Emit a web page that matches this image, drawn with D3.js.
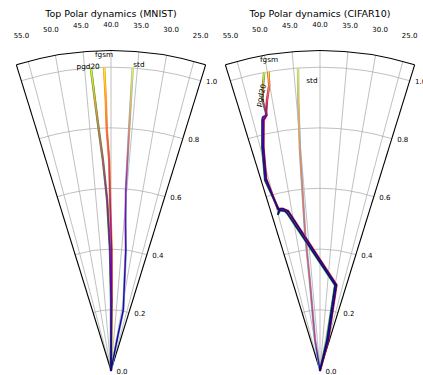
<!DOCTYPE html>
<html>
<head>
<meta charset="utf-8">
<script src="https://cdn.jsdelivr.net/npm/d3@7"></script>
<style>
  body { margin: 0; background: #fff; }
  svg { display: block; font-family: "DejaVu Sans", sans-serif; }
</style>
</head>
<body>
<script>
// ── Data ────────────────────────────────────────────────────────────────────
const thetaTicks = [25, 30, 35, 40, 45, 50, 55];
const rTicks = [0.0, 0.2, 0.4, 0.6, 0.8, 1.0];
const titles = ["Top Polar dynamics (MNIST)", "Top Polar dynamics (CIFAR10)"];

// each point: [epoch, theta (deg), r]
const mnistStd = [[0, 40, 0], [2, 28.9, 0.102], [5, 28.5, 0.203], [15, 33.0, 0.4], [25, 34.5, 0.498],
  [35, 35.3, 0.597], [70, 35.7, 0.795], [100, 35.9, 1.0]];
const mnistFgsm = [[0, 40, 0], [15, 39.4, 0.232], [28, 39.7, 0.397], [38, 40.3, 0.562], [52, 40.5, 0.694],
  [64, 41.0, 0.793], [80, 41.1, 0.891], [100, 41.3, 1.0]];
const mnistPgd20 = [[0, 40, 0], [15, 40.0, 0.232], [25, 40.5, 0.397], [35, 41.3, 0.562], [50, 42.2, 0.694],
  [62, 42.9, 0.793], [78, 43.4, 0.893], [100, 43.8, 1.0]];

const cifarStd = [[0, 40, 0], [45, 49.3, 0.102], [55, 46.5, 0.29], [60, 46.2, 0.456], [72, 45.2, 0.729],
  [85, 44.6, 0.894], [100, 44.15, 1.0]];
const cifarFgsm = [[0, 40, 0], [0.5, 24.8, 0.10], [1, 29.1, 0.287], [1.5, 51.3, 0.536], [2, 52.9, 0.547],
  [2.5, 54.6, 0.55], [3, 55.7, 0.656], [5, 54.2, 0.76], [14, 52.7, 0.846], [22, 52.0, 0.857],
  [50, 51.1, 0.908], [75, 50.1, 0.955], [100, 49.8, 0.999]];
const cifarPgd20 = [[0, 40, 0], [0.5, 27.1, 0.103], [1, 30.0, 0.286], [1.5, 51.8, 0.53], [2, 52.4, 0.538],
  [2.5, 54.3, 0.546], [3, 55.0, 0.534], [3.5, 54.25, 0.542], [4, 56.1, 0.653], [6, 54.5, 0.761],
  [14, 53.0, 0.847], [20, 52.7, 0.856], [28, 51.8, 0.86], [55, 52.0, 0.911], [75, 51.3, 0.959],
  [100, 50.6, 1.0]];

// annotations: [text, theta, r, rotation]
const mnistNotes = [["fgsm", 41.27, 1.043, 0], ["pgd20", 44.3, 1.004, 0], ["std", 34.8, 1.014, 0]];
const cifarNotes = [["fgsm", 49.3, 1.04, 0], ["std", 41.6, 0.957, 0], ["pgd20", 52.1, 0.928, -76]];

const panels = [
  { cx: 111, title: titles[0], notes: mnistNotes,
    runs: [{ pts: mnistStd, base: "#7eb6e0" }, { pts: mnistFgsm, base: "#ff7f0e" }, { pts: mnistPgd20, base: "#2ca02c" }] },
  { cx: 320, title: titles[1], notes: cifarNotes,
    runs: [{ pts: cifarStd, base: "#7eb6e0" }, { pts: cifarPgd20, base: "#2ca02c" }, { pts: cifarFgsm, base: "#d62728" }] },
];

// ── Layout ──────────────────────────────────────────────────────────────────
const W = 423, H = 375;
const CY = 370.5;
const THETA_MIN = 22.8, THETA_MAX = 57.2, R_MAX = 1.055;
const OUTER = 320;

const rScale = d3.scaleLinear().domain([0, R_MAX]).range([0, OUTER]);
// clockwise-from-north angle; 40° points straight up, larger theta to the left
const aScale = d3.scaleLinear().domain([40, 55]).range([0, -15 * Math.PI / 180]);
const color = d3.scaleSequential(d3.interpolatePlasma).domain([0, 100]);

const svg = d3.select("body").append("svg").attr("width", W).attr("height", H);
const defs = svg.append("defs");
let gradId = 0;

function polar(cx, th, r) {
  const a = aScale(th), p = rScale(r);
  return [cx + p * Math.sin(a), CY - p * Math.cos(a)];
}

function arcPath(cx, rad, t0, t1) {
  const p = d3.path();
  p.arc(cx, CY, rad, aScale(t0) - Math.PI / 2, aScale(t1) - Math.PI / 2);
  return p.toString();
}

panels.forEach((pan) => {
  const { cx } = pan;
  const g = svg.append("g");

  // ── grid ──
  const grid = g.append("g").attr("fill", "none").attr("stroke", "#b0b0b0").attr("stroke-width", 0.8);
  grid.selectAll("line").data(thetaTicks).join("line")
    .attr("x1", cx).attr("y1", CY)
    .attr("x2", (t) => polar(cx, t, R_MAX)[0])
    .attr("y2", (t) => polar(cx, t, R_MAX)[1]);
  grid.selectAll("path").data(rTicks.filter((r) => r > 0)).join("path")
    .attr("d", (r) => arcPath(cx, rScale(r), THETA_MAX, THETA_MIN));

  // ── spines ──
  const spine = g.append("g").attr("fill", "none").attr("stroke", "#000").attr("stroke-width", 1.1);
  spine.append("path").attr("d", arcPath(cx, OUTER, THETA_MAX, THETA_MIN));
  [THETA_MIN, THETA_MAX].forEach((t) => {
    const [x, y] = polar(cx, t, R_MAX);
    spine.append("line").attr("x1", cx).attr("y1", CY).attr("x2", x).attr("y2", y);
  });

  // ── trajectories: solid run colour underneath, epoch gradient on top ──
  const line = d3.line().x((d) => polar(cx, d[1], d[2])[0]).y((d) => polar(cx, d[1], d[2])[1]);
  pan.runs.forEach((run) => {
    g.append("path").datum(run.pts)
      .attr("d", line)
      .attr("fill", "none")
      .attr("stroke", run.base)
      .attr("stroke-width", 2.4)
      .attr("stroke-linejoin", "round");
  });
  pan.runs.forEach((run) => {
    const segs = d3.pairs(run.pts);
    g.append("g").selectAll("line").data(segs).join("line")
      .each(function ([a, b]) {
        const [x1, y1] = polar(cx, a[1], a[2]);
        const [x2, y2] = polar(cx, b[1], b[2]);
        const id = "grad" + gradId++;
        const lg = defs.append("linearGradient").attr("id", id)
          .attr("gradientUnits", "userSpaceOnUse")
          .attr("x1", x1).attr("y1", y1).attr("x2", x2).attr("y2", y2);
        lg.append("stop").attr("offset", 0).attr("stop-color", color(a[0]));
        lg.append("stop").attr("offset", 1).attr("stop-color", color(b[0]));
        d3.select(this)
          .attr("x1", x1).attr("y1", y1).attr("x2", x2).attr("y2", y2)
          .attr("stroke", `url(#${id})`)
          .attr("stroke-width", 1.4)
          .attr("stroke-linecap", "round");
      });
  });

  // ── annotations ──
  g.append("g").selectAll("text").data(pan.notes).join("text")
    .attr("transform", (d) => {
      const [x, y] = polar(cx, d[1], d[2]);
      return `translate(${x},${y}) rotate(${d[3]})`;
    })
    .attr("text-anchor", "middle")
    .attr("dominant-baseline", "central")
    .attr("font-size", 7.3)
    .attr("fill", "#000")
    .text((d) => d[0]);

  // ── theta tick labels ──
  g.append("g").selectAll("text").data(thetaTicks).join("text")
    .attr("x", (t) => cx + 346 * Math.sin(aScale(t)))
    .attr("y", (t) => CY - 346 * Math.cos(aScale(t)))
    .attr("text-anchor", "middle")
    .attr("dominant-baseline", "central")
    .attr("font-size", 7)
    .text((t) => t.toFixed(1));

  // ── r tick labels ──
  g.append("g").selectAll("text").data(rTicks).join("text")
    .attr("x", (r) => polar(cx, THETA_MIN, r)[0] + 11)
    .attr("y", (r) => polar(cx, THETA_MIN, r)[1] + 1)
    .attr("text-anchor", "middle")
    .attr("dominant-baseline", "central")
    .attr("font-size", 7)
    .text((r) => r.toFixed(1));

  // ── title ──
  g.append("text")
    .attr("x", cx).attr("y", 13.5)
    .attr("text-anchor", "middle")
    .attr("dominant-baseline", "central")
    .attr("font-size", 9.5)
    .text(pan.title);
});
</script>
</body>
</html>
